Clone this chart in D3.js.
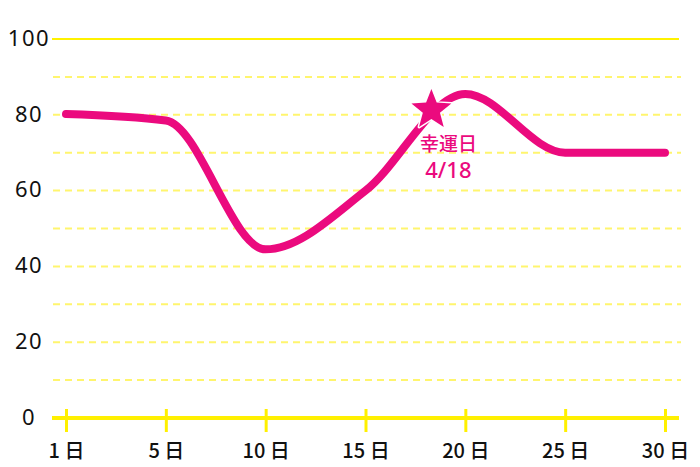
<!DOCTYPE html>
<html><head><meta charset="utf-8">
<script src="https://cdn.jsdelivr.net/npm/d3@7"></script>
<style>
body{margin:0;background:#fff;}
text{font-family:"Noto Sans CJK JP","Noto Sans",sans-serif;}
</style></head>
<body><svg id="c" width="700" height="467"></svg>
<script>
const days = [1, 5, 10, 15, 20, 25, 30];
const dayLabels = ["1 日", "5 日", "10 日", "15 日", "20 日", "25 日", "30 日"];
const values = [80.2, 78.5, 44.5, 60, 85.5, 70, 70];
const yTicks = [0, 20, 40, 60, 80, 100];
const gridValues = [10, 20, 30, 40, 50, 60, 70, 80, 90];
const luckyDay = 18.3;
const luckyValue = 80.5;
const luckyLabel = ["幸運日", "4/18"];

const svg = d3.select("#c");
const pink = "#EB0A7E";
const xIdx = d3.scalePoint().domain(d3.range(days.length)).range([66, 665]);
const xDay = d3.scaleLinear().domain(days).range(days.map((d, i) => xIdx(i)));
const y = d3.scaleLinear().domain([0, 100]).range([418, 39]);

// dashed grid
svg.append("g").selectAll("line").data(gridValues).join("line")
  .attr("x1", 53).attr("x2", 681)
  .attr("y1", d => y(d)).attr("y2", d => y(d))
  .attr("stroke", "#FFF56E").attr("stroke-width", 2)
  .attr("stroke-dasharray", "7,5");
// top solid line
svg.append("line").attr("x1", 52).attr("x2", 679)
  .attr("y1", y(100)).attr("y2", y(100))
  .attr("stroke", "#FFF200").attr("stroke-width", 2);

// y labels
svg.append("g").selectAll("text").data(yTicks).join("text")
  .attr("x", 29).attr("y", d => y(d) + 1)
  .attr("text-anchor", "middle").attr("dominant-baseline", "middle")
  .attr("font-size", 22).attr("letter-spacing", 1.5)
  .style("font-family", "'Noto Sans', sans-serif").attr("fill", "#111")
  .text(d => d);

// x axis
const xAxis = d3.axisBottom(xDay).tickValues(days).tickSize(0).tickFormat("");
const ag = svg.append("g").attr("transform", `translate(0,${y(0)})`).call(xAxis);
ag.select(".domain").remove();
ag.append("line").attr("x1", 52).attr("x2", 679)
  .attr("stroke", "#FFF000").attr("stroke-width", 4);
ag.selectAll(".tick").append("line")
  .attr("y1", -9).attr("y2", 14).attr("stroke", "#FFF000").attr("stroke-width", 3);
ag.selectAll(".tick").append("text")
  .attr("y", 40).attr("text-anchor", "middle")
  .attr("font-size", 20).attr("fill", "#111").attr("font-weight", 500)
  .text((d, i) => dayLabels[i]);

// line
const line = d3.line().x((d, i) => xDay(days[i])).y(d => y(d)).curve(d3.curveMonotoneX);
svg.append("path").datum(values).attr("d", line)
  .attr("fill", "none").attr("stroke", pink).attr("stroke-width", 8)
  .attr("stroke-linecap", "round").attr("stroke-linejoin", "round");

// star
const sx = xDay(luckyDay) + 0, sy = y(luckyValue) - 3;
const R = 21, r = 9;
const pts = d3.range(10).map(i => {
  const a = -Math.PI / 2 + i * Math.PI / 5;
  const rr = i % 2 ? r : R;
  return [sx + rr * Math.cos(a), sy + rr * Math.sin(a)];
});
svg.append("polygon").attr("points", pts.map(p => p.join(",")).join(" "))
  .attr("fill", pink).attr("stroke", "#fff").attr("stroke-width", 3)
  .attr("stroke-linejoin", "round");
svg.append("polygon").attr("points", pts.map(p => p.join(",")).join(" "))
  .attr("fill", pink);

svg.append("g").selectAll("text").data(luckyLabel).join("text")
  .attr("x", sx + 17).attr("y", (d, i) => i ? 178 : 151)
  .attr("text-anchor", "middle").attr("font-size", (d, i) => i ? 22 : 19)
  .attr("font-weight", 500)
  .style("font-family", (d, i) => i ? "'Noto Sans', sans-serif" : null)
  .attr("fill", pink)
  .text(d => d);
</script></body></html>
